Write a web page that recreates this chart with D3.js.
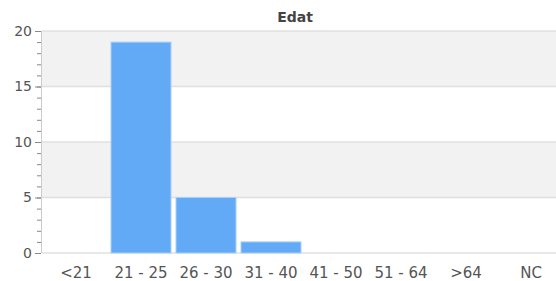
<!DOCTYPE html>
<html>
<head>
<meta charset="utf-8">
<script src="https://cdn.jsdelivr.net/npm/d3@7"></script>
<style>
body { margin: 0; background: #fff; }
svg { display: block; font-family: "DejaVu Sans", sans-serif; }
</style>
</head>
<body>
<script>
var categories = ["<21", "21 - 25", "26 - 30", "31 - 40", "41 - 50", "51 - 64", ">64", "NC"];
var counts = [0, 19, 5, 1, 0, 0, 0, 0];
var yTicks = [0, 5, 10, 15, 20];
var title = "Edat";

var width = 556;
var height = 281;

var svg = d3.select("body")
    .append("svg")
    .attr("width", width)
    .attr("height", height);

var xScale = d3.scaleBand()
    .domain(categories)
    .range([43.5, 563.5])
    .paddingInner(0.077)
    .paddingOuter(0.0385);

var yScale = d3.scaleLinear()
    .domain([0, 20])
    .range([253, 31]);

// alternating bands
var bands = [[5, 10], [15, 20]];
svg.selectAll("rect.band")
    .data(bands)
    .enter()
    .append("rect")
    .attr("class", "band")
    .attr("x", 42)
    .attr("width", width - 42)
    .attr("y", d => yScale(d[1]))
    .attr("height", d => yScale(d[0]) - yScale(d[1]))
    .attr("fill", "#f2f2f2");

// gridlines
svg.selectAll("line.grid")
    .data(yTicks)
    .enter()
    .append("line")
    .attr("class", "grid")
    .attr("x1", 42)
    .attr("x2", width)
    .attr("y1", d => yScale(d))
    .attr("y2", d => yScale(d))
    .attr("stroke", "#e0e0e0")
    .attr("stroke-width", 1.5);

// bars
svg.selectAll("rect.bar")
    .data(counts)
    .enter()
    .append("rect")
    .attr("class", "bar")
    .attr("x", (d, i) => xScale(categories[i]))
    .attr("width", xScale.bandwidth())
    .attr("y", d => yScale(d))
    .attr("height", d => yScale(0) - yScale(d))
    .attr("fill", "#62a9f6")
    .attr("stroke", "#a9cff9")
    .attr("stroke-width", 1);

// y axis, minor ticks
svg.append("g")
    .attr("transform", "translate(41,0)")
    .call(d3.axisLeft(yScale).tickValues(d3.range(0, 21)).tickSize(4).tickFormat(""))
    .call(g => g.select(".domain").remove())
    .call(g => g.selectAll("line").attr("stroke", "#888"));

// y axis, major ticks
svg.append("g")
    .attr("transform", "translate(41,0)")
    .call(d3.axisLeft(yScale).tickValues(yTicks).tickSize(6).tickPadding(3))
    .call(g => g.select(".domain").attr("stroke", "#ccc").attr("d", "M0.5,31V253"))
    .call(g => g.selectAll("line").attr("stroke", "#888"))
    .call(g => g.selectAll("text")
        .attr("fill", "#555")
        .style("font-size", "14px")
        .style("font-family", "DejaVu Sans"));

// x axis labels
svg.append("g")
    .attr("transform", "translate(0,253)")
    .call(d3.axisBottom(xScale).tickSize(0).tickPadding(14))
    .call(g => g.select(".domain").remove())
    .call(g => g.selectAll("text")
        .attr("fill", "#555")
        .style("font-size", "15px")
        .style("font-family", "DejaVu Sans"));

svg.append("text")
    .attr("x", 295)
    .attr("y", 22)
    .attr("text-anchor", "middle")
    .attr("fill", "#444")
    .style("font-weight", "bold")
    .style("font-size", "14px")
    .text(title);
</script>
</body>
</html>
